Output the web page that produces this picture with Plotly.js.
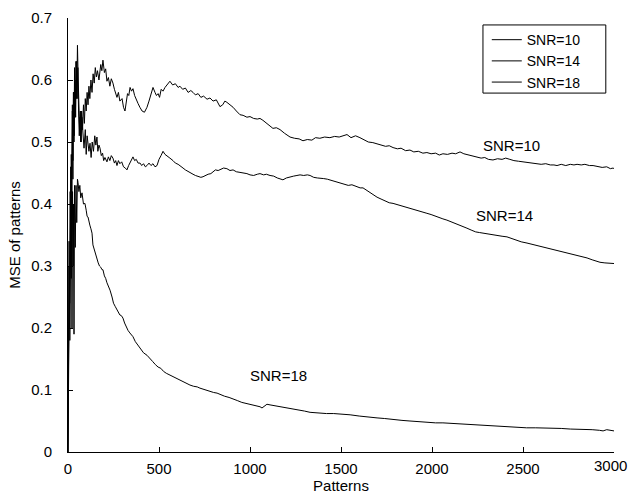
<!DOCTYPE html>
<html>
<head>
<meta charset="utf-8">
<script src="https://cdn.plot.ly/plotly-3.0.1.min.js"></script>
<style>html,body{margin:0;padding:0;background:#fff;}#chart{width:629px;height:500px;}</style>
</head>
<body>
<div id="chart"></div>
<script>
const seriesNames = ["SNR=10", "SNR=14", "SNR=18"];

const x10 = [0,3,6,9,12,15,18,21,24,27,30,34,38,42,46,50,54,58,62,66,70,75,80,85,90,95,100,105,110,115,120,126,132,138,144,150,156,162,170,180,186,192,200,207,214,222,230,238,247,255,262,269,277,285,297,305,313,320,327,334,341,349,357,366,375,385,395,407,420,434,445,456,467,478,486,495,503,512,522,533,545,560,575,590,605,615,630,645,660,675,687,700,715,730,745,764,780,797,815,835,850,862,873,890,907,925,945,962,983,1000,1020,1040,1055,1071,1090,1110,1126,1145,1165,1190,1220,1245,1270,1291,1315,1340,1360,1384,1410,1439,1465,1490,1510,1533,1555,1580,1604,1630,1650,1675,1698,1720,1745,1765,1786,1810,1830,1855,1879,1900,1925,1950,1972,1995,2020,2040,2060,2085,2110,2130,2154,2175,2200,2225,2247,2270,2290,2310,2335,2360,2385,2405,2428,2450,2475,2500,2525,2550,2577,2600,2625,2650,2670,2687,2710,2735,2760,2780,2797,2820,2840,2865,2885,2910,2935,2960,2980,2995,3000];
const y10 = [0.00,0.12,0.30,0.20,0.40,0.46,0.35,0.50,0.56,0.47,0.58,0.51,0.60,0.54,0.63,0.57,0.62,0.55,0.51,0.54,0.50,0.55,0.52,0.56,0.53,0.57,0.55,0.58,0.56,0.59,0.57,0.60,0.58,0.61,0.595,0.62,0.605,0.615,0.60,0.625,0.615,0.632,0.612,0.618,0.598,0.604,0.590,0.602,0.595,0.585,0.578,0.572,0.580,0.566,0.570,0.556,0.550,0.566,0.578,0.575,0.588,0.582,0.586,0.575,0.570,0.562,0.556,0.550,0.548,0.556,0.566,0.578,0.588,0.580,0.575,0.578,0.572,0.585,0.582,0.588,0.592,0.598,0.592,0.594,0.588,0.590,0.585,0.587,0.580,0.583,0.580,0.576,0.578,0.572,0.574,0.569,0.571,0.566,0.568,0.557,0.560,0.566,0.564,0.560,0.556,0.550,0.544,0.543,0.540,0.541,0.538,0.537,0.538,0.535,0.530,0.525,0.522,0.523,0.520,0.514,0.508,0.506,0.505,0.502,0.504,0.503,0.507,0.506,0.508,0.507,0.509,0.508,0.510,0.512,0.507,0.510,0.507,0.503,0.500,0.499,0.497,0.496,0.493,0.494,0.491,0.489,0.490,0.486,0.487,0.484,0.485,0.482,0.483,0.481,0.482,0.479,0.481,0.480,0.482,0.481,0.484,0.481,0.479,0.477,0.476,0.474,0.475,0.472,0.471,0.473,0.472,0.474,0.472,0.470,0.469,0.468,0.466,0.465,0.465,0.464,0.465,0.463,0.463,0.462,0.464,0.462,0.464,0.463,0.464,0.463,0.464,0.462,0.462,0.460,0.459,0.460,0.457,0.458,0.457];

const x14 = [0,3,6,9,12,15,18,21,24,27,30,33,36,40,44,48,52,56,60,64,68,72,76,82,88,95,100,105,110,115,121,127,133,140,147,153,159,164,170,176,183,190,196,203,214,222,230,238,247,255,262,269,277,285,295,305,315,324,333,341,349,357,366,375,385,396,405,415,425,434,445,456,467,478,489,500,511,522,533,544,560,577,590,605,620,632,645,660,675,687,700,715,730,742,755,770,785,797,810,825,840,855,873,890,907,925,945,965,983,1000,1020,1040,1055,1075,1090,1110,1130,1150,1165,1181,1200,1220,1240,1258,1275,1295,1315,1330,1350,1370,1384,1405,1425,1450,1475,1494,1515,1540,1560,1585,1605,1621,1640,1660,1680,1698,1720,1745,1765,1786,1810,1830,1855,1879,1900,1925,1950,1972,1995,2020,2040,2060,2082,2110,2130,2155,2175,2192,2215,2240,2260,2280,2305,2330,2360,2385,2412,2440,2465,2490,2522,2550,2575,2600,2632,2660,2685,2710,2742,2770,2795,2820,2852,2880,2900,2923,2950,2975,3000];
const y14 = [0.00,0.15,0.34,0.24,0.42,0.33,0.48,0.39,0.55,0.44,0.58,0.50,0.62,0.54,0.63,0.57,0.656,0.60,0.57,0.52,0.55,0.50,0.54,0.52,0.49,0.52,0.48,0.51,0.50,0.485,0.498,0.475,0.50,0.485,0.51,0.495,0.508,0.485,0.495,0.490,0.478,0.482,0.470,0.475,0.468,0.476,0.470,0.478,0.474,0.466,0.470,0.462,0.470,0.465,0.468,0.460,0.458,0.455,0.462,0.466,0.472,0.476,0.470,0.472,0.466,0.466,0.462,0.465,0.460,0.462,0.466,0.462,0.465,0.460,0.462,0.472,0.478,0.485,0.480,0.478,0.474,0.470,0.466,0.464,0.460,0.458,0.455,0.452,0.450,0.448,0.446,0.444,0.443,0.444,0.446,0.448,0.449,0.452,0.455,0.454,0.456,0.458,0.457,0.454,0.455,0.452,0.451,0.450,0.449,0.447,0.446,0.448,0.449,0.447,0.448,0.446,0.445,0.442,0.440,0.439,0.442,0.444,0.445,0.446,0.447,0.446,0.447,0.446,0.443,0.442,0.442,0.441,0.440,0.438,0.436,0.434,0.432,0.430,0.431,0.428,0.426,0.426,0.422,0.418,0.414,0.411,0.408,0.404,0.402,0.401,0.399,0.397,0.396,0.394,0.392,0.389,0.387,0.385,0.383,0.380,0.378,0.376,0.374,0.371,0.368,0.365,0.363,0.361,0.358,0.355,0.354,0.353,0.351,0.350,0.349,0.348,0.347,0.344,0.341,0.339,0.337,0.335,0.333,0.331,0.329,0.327,0.325,0.323,0.321,0.319,0.317,0.315,0.313,0.310,0.308,0.306,0.305,0.305,0.304];

const x18 = [0,2,4,6,8,10,12,14,16,18,20,22,25,28,30,33,36,40,44,48,52,55,60,65,70,77,85,93,100,105,110,115,120,126,132,137,145,152,159,166,173,180,187,192,200,207,214,222,231,242,250,259,269,277,285,293,302,311,320,330,340,357,370,385,400,415,434,450,465,480,495,510,525,540,560,577,595,615,635,654,670,690,710,725,745,765,785,800,819,840,860,885,907,930,955,985,1016,1040,1055,1066,1080,1093,1110,1130,1150,1181,1210,1240,1275,1300,1330,1360,1384,1420,1460,1511,1550,1600,1650,1698,1740,1790,1835,1879,1920,1970,2020,2060,2110,2160,2210,2247,2290,2340,2390,2428,2470,2520,2570,2610,2660,2710,2760,2797,2840,2880,2920,2940,2960,2980,3000];
const y18 = [0.00,0.10,0.22,0.13,0.30,0.18,0.36,0.25,0.40,0.28,0.37,0.20,0.42,0.30,0.40,0.19,0.43,0.33,0.43,0.37,0.44,0.435,0.42,0.43,0.41,0.418,0.40,0.401,0.39,0.38,0.379,0.37,0.366,0.36,0.353,0.334,0.325,0.318,0.310,0.305,0.300,0.298,0.294,0.294,0.284,0.280,0.273,0.268,0.261,0.250,0.240,0.235,0.229,0.225,0.221,0.220,0.216,0.208,0.201,0.196,0.192,0.186,0.178,0.172,0.166,0.160,0.156,0.150,0.146,0.141,0.137,0.135,0.130,0.127,0.124,0.121,0.118,0.115,0.112,0.110,0.108,0.106,0.105,0.103,0.101,0.099,0.098,0.096,0.095,0.092,0.090,0.088,0.085,0.083,0.080,0.078,0.076,0.074,0.073,0.071,0.074,0.077,0.076,0.075,0.074,0.073,0.071,0.070,0.068,0.066,0.064,0.063,0.063,0.062,0.062,0.061,0.060,0.058,0.056,0.055,0.054,0.052,0.051,0.050,0.049,0.048,0.047,0.047,0.046,0.045,0.044,0.044,0.043,0.042,0.041,0.040,0.040,0.039,0.039,0.039,0.038,0.038,0.037,0.037,0.036,0.036,0.035,0.034,0.036,0.035,0.034];

const xTicks = [0, 500, 1000, 1500, 2000, 2500, 3000];
const xTickLabels = ["0", "500", "1000", "1500", "2000", "2500", "3000"];
const yTicks = [0, 0.1, 0.2, 0.3, 0.4, 0.5, 0.6, 0.7];
const yTickLabels = ["0", "0.1", "0.2", "0.3", "0.4", "0.5", "0.6", "0.7"];

const FONT = "Liberation Sans, Arial, Helvetica, sans-serif";
const FS = 15;
const lineStyle = {color: "#000", width: 1};

const traces = [
  {x: x10, y: y10, name: seriesNames[0], mode: "lines", line: lineStyle},
  {x: x14, y: y14, name: seriesNames[1], mode: "lines", line: lineStyle},
  {x: x18, y: y18, name: seriesNames[2], mode: "lines", line: lineStyle}
];

const axisCommon = {
  showline: true, linecolor: "#000", linewidth: 1, mirror: false,
  showgrid: false, zeroline: false,
  ticks: "inside", ticklen: 5, tickwidth: 1, tickcolor: "#000",
  tickfont: {family: FONT, size: FS, color: "#000"}
};

// last x tick label drawn as annotation so it stays fully inside the page
const lastIdx = xTicks.length - 1;
const shownXLabels = xTickLabels.map((t, i) => i === lastIdx ? "" : t);

const layout = {
  width: 629, height: 500,
  margin: {l: 68, r: 15, t: 18, b: 48},
  paper_bgcolor: "#fff", plot_bgcolor: "#fff",
  font: {family: FONT, size: FS, color: "#000"},
  showlegend: true,
  legend: {
    x: 0.767, y: 0.986, xanchor: "left", yanchor: "top",
    bgcolor: "rgba(0,0,0,0)", borderwidth: 0,
    font: {family: FONT, size: 14, color: "#000"},
    tracegroupgap: 0
  },
  shapes: [
    {type: "rect", xref: "paper", yref: "paper", x0: 0.760, x1: 0.985, y0: 0.827, y1: 0.984,
     line: {color: "#000", width: 1}, fillcolor: "#fff", layer: "below"}
  ],
  xaxis: Object.assign({}, axisCommon, {
    range: [0, 3000], tickvals: xTicks, ticktext: shownXLabels,
    ticklabelstandoff: 3,
    title: {text: "Patterns", font: {family: FONT, size: FS, color: "#000"}, standoff: 2}
  }),
  yaxis: Object.assign({}, axisCommon, {
    range: [0, 0.7], tickvals: yTicks, ticktext: yTickLabels,
    ticklabelstandoff: 12,
    title: {text: "MSE of patterns", font: {family: FONT, size: FS, color: "#000"}, standoff: 6}
  }),
  annotations: [
    {x: 2439, y: 0.495, xref: "x", yref: "y", text: seriesNames[0], showarrow: false, font: {family: FONT, size: FS, color: "#000"}},
    {x: 2401, y: 0.382, xref: "x", yref: "y", text: seriesNames[1], showarrow: false, font: {family: FONT, size: FS, color: "#000"}},
    {x: 1154, y: 0.124, xref: "x", yref: "y", text: seriesNames[2], showarrow: false, font: {family: FONT, size: FS, color: "#000"}},
    {x: xTicks[lastIdx], y: 0, xref: "x", yref: "paper", yanchor: "top", xanchor: "right", xshift: 15, yshift: -3,
     text: xTickLabels[lastIdx], showarrow: false, font: {family: FONT, size: FS, color: "#000"}}
  ]
};

Plotly.newPlot("chart", traces, layout, {displayModeBar: false, staticPlot: true});
</script>
</body>
</html>
